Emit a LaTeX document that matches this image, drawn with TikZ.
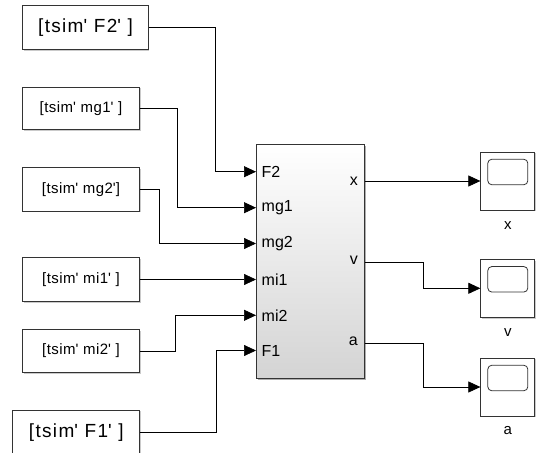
\documentclass[tikz,border=0pt]{standalone}
\usepackage{fontspec}
\setmainfont{Liberation Sans}
\usetikzlibrary{arrows.meta,calc,shadows}
\newcommand{\qmk}{\textquotesingle}
\tikzset{
  frombox/.style={draw=black!80, line width=0.9pt, fill=white, rectangle, inner sep=0pt,
    drop shadow={shadow xshift=1.2pt, shadow yshift=-1.2pt, fill=black!35, opacity=0.6}},
  bigtxt/.style={font=\fontsize{19}{21}\selectfont\addfontfeatures{LetterSpace=7}},
  smalltxt/.style={font=\fontsize{15}{17}\selectfont\addfontfeatures{LetterSpace=3}},
  scopebox/.style={draw=black!80, line width=0.9pt, fill=white, rectangle, inner sep=0pt,
    minimum width=54pt, minimum height=58pt,
    drop shadow={shadow xshift=1.2pt, shadow yshift=-1.2pt, fill=black!35, opacity=0.6}},
  screen/.style={draw=black!80, line width=0.8pt, rounded corners=4pt, fill=white,
    minimum width=40pt, minimum height=25.5pt, inner sep=0pt},
  portlbl/.style={font=\fontsize{16}{18}\selectfont, inner sep=0pt},
  conn/.style={line width=0.7pt, black},
  arr/.style={conn, -{Triangle[length=12pt,width=11pt]}},
}
\begin{document}
\begin{tikzpicture}[x=1pt,y=-1pt]
\useasboundingbox (0,0) rectangle (540,452);
\clip (0,0) rectangle (540,452);
% source blocks
\node[frombox, bigtxt, minimum width=125.5pt, minimum height=43.5pt] (f2) at (85.5,27.7) {[tsim\qmk{} F2\qmk{} ]};
\node[frombox, smalltxt, minimum width=116.6pt, minimum height=42.7pt] (mg1) at (81,108.5) {[tsim\qmk{} mg1\qmk{} ]};
\node[frombox, smalltxt, minimum width=116.6pt, minimum height=43.3pt] (mg2) at (81,189.5) {[tsim\qmk{} mg2\qmk]};
\node[frombox, smalltxt, minimum width=116.6pt, minimum height=43.7pt] (mi1) at (81,279.5) {[tsim\qmk{} mi1\qmk{} ]};
\node[frombox, smalltxt, minimum width=116.6pt, minimum height=43.4pt] (mi2) at (81,351) {[tsim\qmk{} mi2\qmk{} ]};
\node[frombox, bigtxt, minimum width=127pt, minimum height=44.5pt] (f1) at (76.3,432.5) {[tsim\qmk{} F1\qmk{} ]};
% main subsystem block
\node[draw=black!80, line width=0.9pt, rectangle, inner sep=0pt,
  minimum width=108.5pt, minimum height=234pt,
  top color=white, bottom color=black!17,
  drop shadow={shadow xshift=1.5pt, shadow yshift=-1.5pt, fill=black!45, opacity=0.7}] (sys) at (310.5,261) {};
% input ports
\coordinate (pF2) at (256,171.7);
\coordinate (pmg1) at (256,207.7);
\coordinate (pmg2) at (256,243.5);
\coordinate (pmi1) at (256,279.5);
\coordinate (pmi2) at (256,315.3);
\coordinate (pF1) at (256,350.5);
\node[portlbl, anchor=west] (lF2) at (261.5,171.7) {F2};
\node[portlbl, anchor=west] (lmg1) at (261.5,207.7) {mg1};
\node[portlbl, anchor=west] (lmg2) at (261.5,243.5) {mg2};
\node[portlbl, anchor=west] (lmi1) at (261.5,279.5) {mi1};
\node[portlbl, anchor=west] (lmi2) at (261.5,315.3) {mi2};
\node[portlbl, anchor=west] (lF1) at (261.5,350.5) {F1};
% output ports
\coordinate (px) at (365,181);
\coordinate (pv) at (365,262);
\coordinate (pa) at (365,343);
\node[portlbl, anchor=east] (lx) at (358,181.5) {x};
\node[portlbl, anchor=east] (lv) at (358,260.5) {v};
\node[portlbl, anchor=east] (la) at (358,341.5) {a};
% scopes
\node[scopebox] (s1) at (507.8,181) {};
\node[scopebox] (s2) at (507.8,288.3) {};
\node[scopebox] (s3) at (507.8,387) {};
\node[screen, anchor=north] (sc1) at ($(s1.north)+(0,7.3)$) {};
\node[screen, anchor=north] (sc2) at ($(s2.north)+(0,7.3)$) {};
\node[screen, anchor=north] (sc3) at ($(s3.north)+(0,7.3)$) {};
\node[portlbl, font=\fontsize{15}{17}\selectfont] (tx) at (507.8,226) {x};
\node[portlbl, font=\fontsize{15}{17}\selectfont] (tv) at (507.8,333) {v};
\node[portlbl, font=\fontsize{15}{17}\selectfont] (ta) at (507.8,431) {a};
% connectors
\draw[arr] (f2.east) -- ++(66.7,0) |- (pF2);
\draw[arr] (mg1.east) -- ++(37.4,0) |- (pmg1);
\draw[arr] (mg2.east) -- ++(20,0) |- (pmg2);
\draw[arr] (mi1.east) -- (pmi1);
\draw[arr] (mi2.east) -- ++(35.7,0) |- (pmi2);
\draw[arr] (f1.east |- 0,432.3) -- ++(75.7,0) |- (pF1);
\draw[arr] (px) -- (s1.west);
\draw[arr] (pv) -- ++(58.5,0) |- (s2.west);
\draw[arr] (pa) -- ++(58.5,0) |- (s3.west);
\end{tikzpicture}
\end{document}
